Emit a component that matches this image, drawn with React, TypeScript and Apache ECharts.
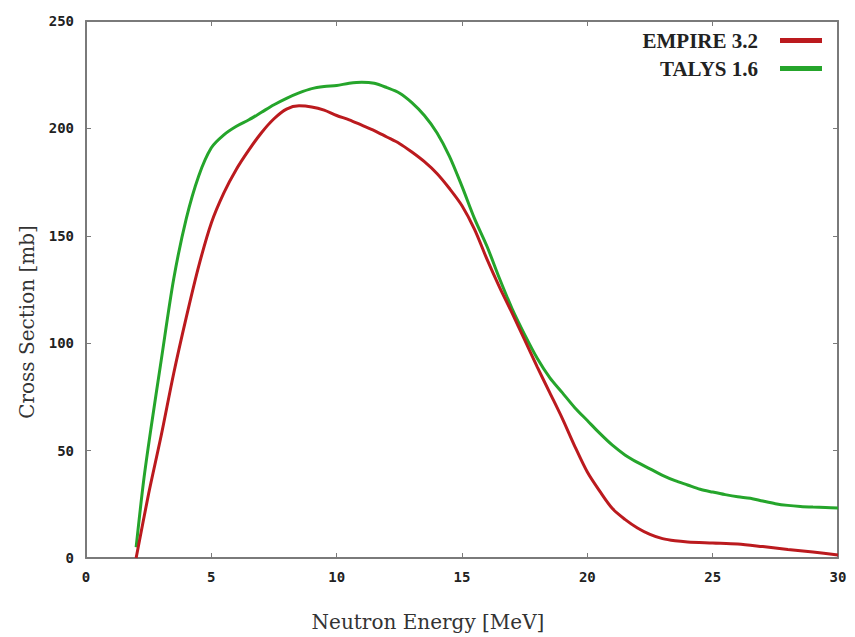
import React, { useEffect, useRef } from "react";
import * as echarts from "echarts";

const empireX = [2.0, 2.5, 3.0, 3.5, 4.0, 4.5, 5.0, 5.5, 6.0, 6.5, 7.0, 7.5, 8.0, 8.5, 9.0, 9.5, 10.0, 10.5, 11.0, 11.5, 12.0, 12.5, 13.0, 13.5, 14.0, 14.5, 15.0, 15.5, 16.0, 16.5, 17.0, 17.5, 18.0, 18.5, 19.0, 19.5, 20.0, 20.5, 21.0, 21.5, 22.0, 22.5, 23.0, 23.5, 24.0, 25.0, 26.0, 27.0, 28.0, 29.0, 30.0];
const empireY = [0, 30, 57, 86, 112, 136, 156, 170, 181, 190, 198, 204.5, 209, 210.5, 210, 208.5, 206, 204, 201.5, 199, 196, 193, 189, 184.5, 179, 172, 164, 153, 139, 126, 114, 101.5, 89, 77, 65, 52, 40, 31, 23, 18, 14, 11, 9, 8, 7.5, 7, 6.5, 5.3, 4, 2.8, 1.4];

const talysX = [2.0, 2.3, 2.6, 3.0, 3.5, 4.0, 4.5, 5.0, 5.5, 6.0, 6.5, 7.0, 7.5, 8.0, 8.5, 9.0, 9.5, 10.0, 10.5, 11.0, 11.5, 12.0, 12.5, 13.0, 13.5, 14.0, 14.5, 15.0, 15.5, 16.0, 16.5, 17.0, 17.5, 18.0, 18.5, 19.0, 19.5, 20.0, 20.5, 21.0, 21.5, 22.0, 22.5, 23.0, 23.5, 24.0, 24.5, 25.0, 25.5, 26.0, 26.5, 27.0, 27.5, 28.0, 28.5, 29.0, 29.5, 30.0];
const talysY = [5, 36, 61, 92, 130, 158, 178, 191, 197, 201, 204, 207.5, 211, 214, 216.5, 218.5, 219.5, 220, 221, 221.5, 221, 219, 216.5, 212, 206, 198, 187, 173, 158, 145, 130, 116, 104, 93, 84, 77, 70, 64, 58, 52.5, 48, 44.5, 41.5, 38.5, 36, 34, 32, 30.7, 29.5, 28.5, 27.8, 26.5, 25.3, 24.5, 24, 23.7, 23.5, 23.3];

const seriesNames = ["EMPIRE 3.2", "TALYS 1.6"];
const seriesColors = ["#bb1a1e", "#25a52b"];
const xTicks = [0, 5, 10, 15, 20, 25, 30];
const yTicks = [0, 50, 100, 150, 200, 250];
const xTitle = "Neutron Energy [MeV]";
const yTitle = "Cross Section [mb]";

export default function App() {
  const ref = useRef<HTMLDivElement>(null);
  useEffect(() => {
    if (!ref.current) return;
    const chart = echarts.init(ref.current, null, { renderer: "svg" });
    const axisLine = { show: true, onZero: false, lineStyle: { color: "#7a7a7a", width: 2 } };
    const tickStyle = { show: true, inside: true, length: 5, lineStyle: { color: "#7a7a7a", width: 1 } };
    const labelFont = {
      fontFamily: "DejaVu Sans Mono",
      fontWeight: "bold" as const,
      fontSize: 14,
      color: "#222",
    };
    chart.setOption({
      animation: false,
      backgroundColor: "#fff",
      grid: { left: 86, right: 17, top: 21, bottom: 79, containLabel: false },
      legend: {
        orient: "vertical",
        right: 28,
        top: 25,
        align: "right",
        itemWidth: 42,
        itemHeight: 5,
        itemGap: 7,
        icon: "rect",
        data: seriesNames,
        textStyle: {
          fontFamily: "Liberation Serif",
          fontWeight: "bold",
          fontSize: 21,
          color: "#222",
          padding: [0, 17, 0, 0],
        },
      },
      xAxis: [
        {
          type: "value",
          min: xTicks[0],
          max: xTicks[xTicks.length - 1],
          interval: 5,
          axisLine,
          axisTick: tickStyle,
          splitLine: { show: false },
          axisLabel: { ...labelFont, margin: 12 },
        },
        {
          type: "value",
          position: "top",
          min: xTicks[0],
          max: xTicks[xTicks.length - 1],
          interval: 5,
          axisLine,
          axisTick: tickStyle,
          splitLine: { show: false },
          axisLabel: { show: false },
        },
      ],
      yAxis: [
        {
          type: "value",
          min: yTicks[0],
          max: yTicks[yTicks.length - 1],
          interval: 50,
          axisLine,
          axisTick: tickStyle,
          splitLine: { show: false },
          axisLabel: { ...labelFont, margin: 12 },
        },
        {
          type: "value",
          position: "right",
          min: yTicks[0],
          max: yTicks[yTicks.length - 1],
          interval: 50,
          axisLine,
          axisTick: tickStyle,
          splitLine: { show: false },
          axisLabel: { show: false },
        },
      ],
      graphic: [
        {
          type: "text",
          x: 428,
          y: 622,
          style: {
            text: xTitle,
            fontFamily: "DejaVu Serif",
            fontSize: 20,
            fill: "#333",
            textAlign: "center",
            textVerticalAlign: "middle",
          },
        },
        {
          type: "text",
          x: 27,
          y: 322,
          rotation: Math.PI / 2,
          style: {
            text: yTitle,
            fontFamily: "DejaVu Serif",
            fontSize: 20,
            fill: "#333",
            textAlign: "center",
            textVerticalAlign: "middle",
          },
        },
      ],
      series: [
        {
          name: seriesNames[0],
          type: "line",
          data: empireX.map((x, i) => [x, empireY[i]]),
          showSymbol: false,
          smooth: 0.3,
          lineStyle: { color: seriesColors[0], width: 3 },
          itemStyle: { color: seriesColors[0] },
          z: 3,
        },
        {
          name: seriesNames[1],
          type: "line",
          data: talysX.map((x, i) => [x, talysY[i]]),
          showSymbol: false,
          smooth: 0.3,
          lineStyle: { color: seriesColors[1], width: 3 },
          itemStyle: { color: seriesColors[1] },
          z: 2,
        },
      ],
    });
    return () => chart.dispose();
  }, []);
  return <div ref={ref} style={{ width: 855, height: 637, position: "absolute", left: 0, top: 0 }} />;
}
